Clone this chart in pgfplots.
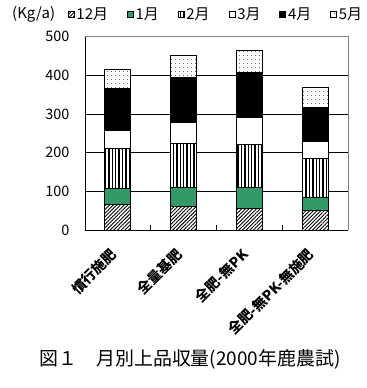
\documentclass[border=0pt]{standalone}
\usepackage{fontspec}
\setmainfont{Noto Sans CJK JP}
\usepackage{pgfplots}
\pgfplotsset{compat=1.18}
\usetikzlibrary{patterns.meta}
\definecolor{exgreen}{HTML}{339966}
\begin{document}
\begin{tikzpicture}
\useasboundingbox (0,0) rectangle (367bp,388bp);
\begin{axis}[
  at={(85bp,158bp)}, anchor=south west,
  scale only axis, width=263bp, height=193.5bp,
  ybar stacked, bar width=26bp,
  xmin=-0.5, xmax=3.5, ymin=0, ymax=500,
  ytick={0,100,200,300,400,500},
  xtick={0,1,2,3},
  xticklabels={慣行施肥,全量基肥,全肥-無PK,全肥-無PK-無施肥},
  minor xtick={0.5,1.5,2.5},
  major tick length=0pt, minor tick length=5bp,
  tick align=inside,
  axis x line*=bottom, axis y line*=left,
  axis line style={black, line width=0.8bp, -},
  ymajorgrids, grid style={black, line width=0.7bp},
  minor tick style={black, line width=0.7bp},
  /pgf/number format/assume math mode=true,
  yticklabel style={font=\fontsize{14.5}{16}\selectfont, xshift=-12bp},
  xticklabel style={font=\fontsize{14}{16}\selectfont\bfseries, xshift=-4bp, yshift=-22bp, rotate=45, anchor=east, inner sep=0pt},
  legend style={draw=none, fill=none, inner sep=0pt, outer sep=0pt,
    at={(axis description cs:-0.065,1.116)}, anchor=west,
    font=\fontsize{15}{16}\selectfont,
    /tikz/every even column/.append style={column sep=17bp}},
  legend columns=6,
  legend image code/.code={\draw[#1, line width=0.6bp] (0bp,-3bp) rectangle (6bp,3bp);},
  clip=false,
]
\addplot[draw=black, line width=0.8bp, fill=white, postaction={pattern={Lines[angle=45, distance=2.6bp, line width=0.9bp]}}] coordinates {(0,65) (1,62) (2,56) (3,51)};
\addplot[draw=black, line width=0.8bp, fill=exgreen] coordinates {(0,42) (1,49) (2,55) (3,34)};
\addplot[draw=black, line width=0.8bp, fill=white, postaction={pattern={Lines[angle=90, distance=3.4bp, line width=1.4bp]}}] coordinates {(0,104) (1,113) (2,111) (3,101)};
\addplot[draw=black, line width=0.8bp, fill=white] coordinates {(0,46) (1,54) (2,69) (3,43)};
\addplot[draw=black, line width=0.8bp, fill=black] coordinates {(0,109) (1,116) (2,116) (3,87)};
\addplot[draw=black, line width=0.8bp, fill=white, postaction={pattern={Dots[distance=3.6bp, radius=0.5bp]}}] coordinates {(0,49) (1,56) (2,57) (3,53)};
\legend{12月,1月,2月,3月,4月,5月}
\draw[gray, line width=0.8bp] (rel axis cs:0,1) -- (rel axis cs:1,1) -- (rel axis cs:1,0);
\end{axis}
\node[anchor=west, font=\fontsize{15}{16}\selectfont, inner sep=0pt] at (12bp,374bp) {(Kg/a)};
\node[font=\fontsize{19}{20}\selectfont, inner sep=0pt] at (190bp,29bp) {図１　月別上品収量(2000年鹿農試)};
\end{tikzpicture}
\end{document}
